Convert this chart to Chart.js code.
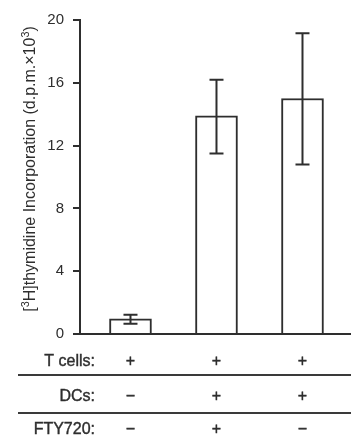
<!DOCTYPE html>
<html>
<head>
<meta charset="utf-8">
<script src="https://cdn.jsdelivr.net/npm/chart.js@4"></script>
<style>
    html, body { margin: 0; padding: 0; background: #fff; }
    #wrap { width: 351px; height: 438px; }
</style>
</head>
<body>
<div id="wrap"><canvas id="thymidineChart"></canvas></div>
<script>
// groups along x, bar heights and error bar ends (d.p.m. x 10^3)
const groups = [0, 1, 2];
const means = [0.96, 13.9, 15.0];
const errLow = [0.66, 11.5, 10.8];
const errHigh = [1.22, 16.2, 19.15];
const yTicks = [0, 4, 8, 12, 16, 20];

// condition table under the axis
const rowLabels = ['T cells:', 'DCs:', 'FTY720:'];
const tCells = ['+', '+', '+'];
const dcs = ['\u2212', '+', '+'];
const fty720 = ['\u2212', '+', '\u2212'];

const ink = '#2e2e2e';
const fontName = '"Liberation Sans", Arial, sans-serif';

// error bars with caps, drawn through the scales
const errorBars = {
    id: 'errorBars',
    afterDatasetsDraw(chart) {
        const { ctx, scales: { x, y } } = chart;
        ctx.save();
        ctx.strokeStyle = ink;
        ctx.lineWidth = 2;
        groups.forEach(function (g, i) {
            let px = x.getPixelForValue(g);
            let top = y.getPixelForValue(errHigh[i]);
            let bot = y.getPixelForValue(errLow[i]);
            ctx.beginPath();
            ctx.moveTo(px, top); ctx.lineTo(px, bot);
            ctx.moveTo(px - 7, top); ctx.lineTo(px + 7, top);
            ctx.moveTo(px - 7, bot); ctx.lineTo(px + 7, bot);
            ctx.stroke();
        });
        ctx.restore();
    }
};

// rotated y title with superscripts
const yTitle = {
    id: 'yTitle',
    afterDraw(chart) {
        const ctx = chart.ctx;
        const parts = [
            ['[', false], ['3', true], ['H]thymidine Incorporation (d.p.m.\u00d710', false],
            ['3', true], [')', false]
        ];
        const size = 16;
        ctx.save();
        ctx.fillStyle = ink;
        ctx.textBaseline = 'alphabetic';
        let total = 0;
        parts.forEach(function (p) {
            ctx.font = (p[1] ? size * 0.68 : size) + 'px ' + fontName;
            total += ctx.measureText(p[0]).width;
        });
        ctx.translate(35, 169);
        ctx.rotate(-Math.PI / 2);
        let cx = -total / 2;
        parts.forEach(function (p) {
            ctx.font = (p[1] ? size * 0.68 : size) + 'px ' + fontName;
            ctx.fillText(p[0], cx, p[1] ? -6 : 0);
            cx += ctx.measureText(p[0]).width;
        });
        ctx.restore();
    }
};

// the +/- table under the x axis
const conditionTable = {
    id: 'conditionTable',
    afterDraw(chart) {
        const { ctx, scales: { x } } = chart;
        const rows = [tCells, dcs, fty720];
        const rowY = [362, 397, 430];
        const lineY = [375, 413];
        ctx.save();
        ctx.fillStyle = ink;
        ctx.strokeStyle = '#3a3a3a';
        ctx.lineWidth = 2;
        lineY.forEach(function (ly) {
            ctx.beginPath();
            ctx.moveTo(18, ly); ctx.lineTo(351, ly);
            ctx.stroke();
        });
        ctx.font = '16px ' + fontName;
        ctx.textBaseline = 'middle';
        ctx.lineWidth = 0.4;
        ctx.strokeStyle = ink;
        rows.forEach(function (row, r) {
            ctx.textAlign = 'right';
            ctx.fillText(rowLabels[r], 95, rowY[r]);
            ctx.strokeText(rowLabels[r], 95, rowY[r]);
            ctx.textAlign = 'center';
            row.forEach(function (s, i) {
                let px = x.getPixelForValue(groups[i]);
                ctx.fillText(s, px, rowY[r]);
                ctx.strokeText(s, px, rowY[r]);
            });
        });
        ctx.restore();
    }
};

new Chart('thymidineChart', {
    type: 'bar',
    data: {
        datasets: [{
            data: groups.map((g, i) => ({ x: g, y: means[i] })),
            backgroundColor: '#fff',
            borderColor: ink,
            borderWidth: 2,
            borderSkipped: 'bottom',
            barThickness: 42
        }]
    },
    options: {
        responsive: true,
        maintainAspectRatio: false,
        animation: false,
        layout: { padding: { top: 20, right: 0, left: 0, bottom: 0 } },
        plugins: {
            legend: { display: false },
            tooltip: { enabled: false }
        },
        scales: {
            x: {
                type: 'linear',
                min: -0.587,
                max: 2.564,
                offset: false,
                grid: { display: false, offset: false },
                border: { display: true, color: ink, width: 2 },
                ticks: { display: false },
                afterFit: (scale) => { scale.height = 104; }
            },
            y: {
                min: 0,
                max: 20,
                afterBuildTicks: (scale) => { scale.ticks = yTicks.map(v => ({ value: v })); },
                grid: { drawOnChartArea: false, tickLength: 7, color: ink, lineWidth: 2 },
                border: { display: true, color: ink, width: 2 },
                ticks: {
                    padding: 9,
                    color: ink,
                    font: { family: fontName, size: 15 }
                },
                afterFit: (scale) => { scale.width = 80; }
            }
        }
    },
    plugins: [errorBars, yTitle, conditionTable]
});
</script>
</body>
</html>
